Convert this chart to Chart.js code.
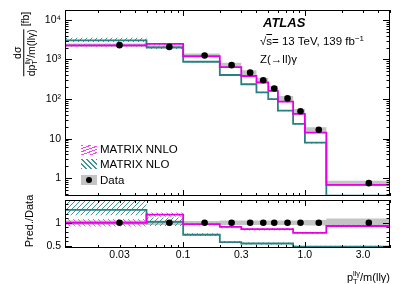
<!doctype html>
<html lang="en">
<head>
<meta charset="utf-8">
<title>Z(ll)gamma pT/m</title>
<script src="https://cdn.jsdelivr.net/npm/chart.js@4.4.0/dist/chart.umd.min.js"></script>
<style>
  body { margin: 0; background: #fff; font-family: "Liberation Sans", Arial, sans-serif; color: #000; }
  #wrap { position: relative; width: 411px; height: 284px; overflow: hidden; }
  canvas { position: absolute; left: 0; }
  .txt { position: absolute; white-space: nowrap; line-height: 1; }
  .ss { display: inline-block; vertical-align: -3px; font-size: 0.68em; line-height: 0.7em; text-align: left; }
  .ss span { display: block; line-height: 7.5px; }
  .frac { display: inline-flex; flex-direction: column; align-items: center; vertical-align: middle; }
  .frac .den { border-top: 1px solid #000; padding-top: 1px; }
  .sym { position: absolute; left: 81px; width: 16px; height: 10px; }
</style>
</head>
<body>
<div id="wrap">
  <canvas id="mainChart" width="411" height="200" style="top:0"></canvas>
  <canvas id="ratioChart" width="411" height="88" style="top:196px"></canvas>

  <div class="txt" style="left:263px; top:15px; font: italic bold 13px 'Liberation Sans', Arial, sans-serif;">ATLAS</div>
  <div class="txt" style="left:260px; top:36px; font-size:11.5px;">√<span style="text-decoration:overline">s</span>= 13 TeV, 139 fb<span style="font-size:8px; position:relative; top:-4px;">−1</span></div>
  <div class="txt" style="left:260px; top:54px; font-size:11.5px;">Z(→ll)γ</div>

  <div class="sym" style="top:145px; background: repeating-linear-gradient(160deg, #ec4cec 0 1px, transparent 1px 3px);"></div>
  <div class="sym" style="top:159px; background: repeating-linear-gradient(45deg, #3c9a9a 0 1px, transparent 1px 3.5px);"></div>
  <div class="sym" style="top:175px; background:#c4c4c4;"><div style="position:absolute; left:5px; top:2px; width:6px; height:6px; border-radius:50%; background:#000;"></div></div>
  <div class="txt" style="left:100px; top:144px; font-size:11.5px;">MATRIX NNLO</div>
  <div class="txt" style="left:100px; top:158.5px; font-size:11.5px;">MATRIX NLO</div>
  <div class="txt" style="left:100px; top:174.5px; font-size:11.5px;">Data</div>

  <div class="txt" style="left:26px; top:44px; font-size:10.5px; transform: translate(-50%,-50%) rotate(-90deg);"><span class="frac"><span>dσ</span><span class="den">dp<span class="ss"><span>llγ</span><span>T</span></span>/m(llγ)</span></span> [fb]</div>
  <div class="txt" style="left:29px; top:221px; font-size:11px; transform: translate(-50%,-50%) rotate(-90deg);">Pred./Data</div>
  <div class="txt" style="right:21px; top:270px; font-size:11px;">p<span class="ss"><span>llγ</span><span>T</span></span>/m(llγ)</div>
</div>

<script>
    // binning in pT(llγ)/m(llγ)
    const binEdges = [0.01, 0.05, 0.1, 0.2, 0.3, 0.4, 0.5, 0.6, 0.8, 1.0, 1.5, 5];
    const dataX = [0.03, 0.077, 0.15, 0.25, 0.355, 0.455, 0.56, 0.72, 0.92, 1.3, 3.35];

    // dσ/d(pT/m) [fb]
    const dataXsec = [2300, 2077, 1259, 720, 465, 299, 185, 104, 49, 16.8, 0.75];
    const nnloXsec = [2278, 2469, 1209, 642, 382, 262, 161, 86, 42, 14.1, 0.68];
    const nloXsec = [3038, 2030, 876, 405, 237, 147, 100, 51, 23.7, 7.9, 0.36];

    // relative uncertainties (bands)
    const dataBoxMain = [0.1, 0.1, 0.12, 0.15, 0.15, 0.15, 0.15, 0.15, 0.15, 0.15, 0.15];
    const dataUnc = [0.05, 0.05, 0.04, 0.05, 0.05, 0.05, 0.05, 0.05, 0.05, 0.06, 0.09];
    const nnloUnc = [0.08, 0.04, 0.03, 0.03, 0.03, 0.03, 0.03, 0.03, 0.03, 0.03, 0.03];
    const nloUncUp = [0.16, 0.09, 0.04, 0.04, 0.04, 0.04, 0.04, 0.04, 0.04, 0.04, 0.04];
    const nloUncDn = [0.09, 0.09, 0.04, 0.04, 0.04, 0.04, 0.04, 0.04, 0.04, 0.04, 0.04];

    // Pred./Data
    const dataRatio = [1, 1, 1, 1, 1, 1, 1, 1, 1, 1, 1];
    const nnloRatio = [1.0, 1.175, 0.97, 0.91, 0.86, 0.86, 0.86, 0.86, 0.78, 0.78, 0.93];
    const nloRatio = [1.28, 1.02, 0.74, 0.58, 0.55, 0.55, 0.55, 0.55, 0.48, 0.48, 0.48];

    // axes
    const xTicks = [0.03, 0.1, 0.3, 1, 3];
    const xLabels = ['0.03', '0.1', '0.3', '1.0', '3.0'];
    const mainYTicks = [1, 10, 100, 1000, 10000];
    const mainYLabels = ['1', '10', '10²', '10³', '10⁴'];
    const ratioYTicks = [0.5, 1];
    const ratioYLabels = ['0.5', '1'];

    const magenta = '#e600e6';
    const magentaHatch = '#ee55ee';
    const teal = '#2a8080';
    const tealHatch = '#3c9a9a';
    const grey = '#c4c4c4';
    const font = { family: "'Liberation Sans', Arial, sans-serif", size: 10.5 };

    let hist = (vals) => binEdges.map((e, i) => ({ x: e, y: vals[Math.min(i, vals.length - 1)] }));
    let scaled = (vals, unc, sign) => vals.map((v, i) => v * (1 + sign * unc[i]));

    let hatch = (color, up) => {
        const c = document.createElement('canvas');
        c.width = c.height = 5;
        const g = c.getContext('2d');
        g.strokeStyle = color;
        g.lineWidth = 1;
        g.beginPath();
        if (up) {
            g.moveTo(0, 5); g.lineTo(5, 0);
            g.moveTo(-1, 1); g.lineTo(1, -1);
            g.moveTo(4, 6); g.lineTo(6, 4);
        } else {
            g.moveTo(0, 0); g.lineTo(5, 5);
            g.moveTo(4, -1); g.lineTo(6, 1);
            g.moveTo(-1, 4); g.lineTo(1, 6);
        }
        g.stroke();
        return g.createPattern(c, 'repeat');
    };

    let logTicks = (lo, hi, major, minor) => {
        const out = [];
        for (let k = Math.floor(Math.log10(lo)); k <= Math.ceil(Math.log10(hi)); k++) {
            for (let m = 1; m < 10; m++) {
                const v = m * Math.pow(10, k);
                if (v >= lo && v <= hi) out.push([v, m === 1 ? major : minor]);
            }
        }
        return out;
    };

    // frame with inward ROOT-style ticks
    const frameTicks = {
        id: 'frameTicks',
        afterDraw(chart, args, opts) {
            const { ctx, chartArea: a, scales: { x, y } } = chart;
            ctx.save();
            ctx.strokeStyle = '#000';
            ctx.lineWidth = 1;
            ctx.beginPath();
            opts.xTicks.forEach(([v, len]) => {
                const px = Math.round(x.getPixelForValue(v)) + 0.5;
                ctx.moveTo(px, a.bottom); ctx.lineTo(px, a.bottom - len);
                ctx.moveTo(px, a.top); ctx.lineTo(px, a.top + len);
            });
            opts.yTicks.forEach(([v, len]) => {
                const py = Math.round(y.getPixelForValue(v)) + 0.5;
                ctx.moveTo(a.left, py); ctx.lineTo(a.left + len, py);
                ctx.moveTo(a.right, py); ctx.lineTo(a.right - len, py);
            });
            ctx.stroke();
            ctx.strokeRect(a.left + 0.5, a.top + 0.5, a.width - 1, a.height - 1);
            ctx.restore();
        }
    };

    const xMin = 0.0107, xMax = 5;

    let lineDs = (pts, color) => ({ data: pts, stepped: true, borderColor: color, borderWidth: 1.8, pointRadius: 0, fill: false });
    let bandDs = (pts, bg) => ({ data: pts, stepped: true, borderWidth: 0, pointRadius: 0, fill: '+1', backgroundColor: bg });
    let edgeDs = (pts) => ({ data: pts, stepped: true, borderWidth: 0, pointRadius: 0, fill: false });
    let pointDs = (pts) => ({ data: pts, showLine: false, pointRadius: 3.3, pointBackgroundColor: '#000', pointBorderWidth: 0 });

    let yAxis = (type, min, max, ticks, labels) => ({
        type: type, min: min, max: max,
        grid: { display: false, drawTicks: false }, border: { display: false },
        afterBuildTicks: (s) => { s.ticks = ticks.map(v => ({ value: v })); },
        ticks: { font: font, color: '#000', padding: 4, callback: (v) => labels[ticks.indexOf(v)] },
        afterFit: (s) => { s.width = 65; s.paddingTop = 0; s.paddingBottom = 0; }
    });

    new Chart(document.getElementById('mainChart'), {
        type: 'line',
        data: {
            datasets: [
                pointDs(dataX.map((x, i) => ({ x: x, y: dataXsec[i] }))),
                lineDs(hist(nnloXsec), magenta),
                lineDs(hist(nloXsec), teal),
                bandDs(hist(scaled(nnloXsec, nnloUnc, 1)), hatch(magentaHatch, false)),
                edgeDs(hist(scaled(nnloXsec, nnloUnc, -1))),
                bandDs(hist(scaled(nloXsec, nloUncUp, 1)), hatch(tealHatch, true)),
                edgeDs(hist(scaled(nloXsec, nloUncDn, -1))),
                bandDs(hist(scaled(dataXsec, dataBoxMain, 1)), grey),
                edgeDs(hist(scaled(dataXsec, dataBoxMain, -1)))
            ]
        },
        options: {
            responsive: false, animation: false, events: [], devicePixelRatio: 1,
            layout: { padding: { left: 0, right: 21, top: 10, bottom: 2 } },
            scales: {
                x: { type: 'logarithmic', min: xMin, max: xMax, display: false },
                y: yAxis('logarithmic', 0.355, 17800, mainYTicks, mainYLabels)
            },
            plugins: {
                legend: { display: false }, tooltip: { enabled: false },
                frameTicks: {
                    xTicks: logTicks(xMin, xMax, 6, 3),
                    yTicks: logTicks(0.355, 17800, 7, 3.5)
                }
            }
        },
        plugins: [frameTicks]
    });

    let ratioYMinor = [];
    for (let v = 5; v <= 14; v++) ratioYMinor.push([v / 10, (v === 5 || v === 10) ? 7 : 3.5]);

    new Chart(document.getElementById('ratioChart'), {
        type: 'line',
        data: {
            datasets: [
                pointDs(dataX.map((x, i) => ({ x: x, y: dataRatio[i] }))),
                lineDs(hist(nnloRatio), magenta),
                lineDs(hist(nloRatio), teal),
                bandDs(hist(scaled(nnloRatio, nnloUnc, 1)), hatch(magentaHatch, false)),
                edgeDs(hist(scaled(nnloRatio, nnloUnc, -1))),
                bandDs(hist(scaled(nloRatio, nloUncUp, 1)), hatch(tealHatch, true)),
                edgeDs(hist(scaled(nloRatio, nloUncDn, -1))),
                bandDs(hist(scaled(dataRatio, dataUnc, 1)), grey),
                edgeDs(hist(scaled(dataRatio, dataUnc, -1)))
            ]
        },
        options: {
            responsive: false, animation: false, events: [], devicePixelRatio: 1,
            layout: { padding: { left: 0, right: 21, top: 2, bottom: 0 } },
            scales: {
                x: {
                    type: 'logarithmic', min: xMin, max: xMax,
                    grid: { display: false, drawTicks: false }, border: { display: false },
                    afterBuildTicks: (s) => { s.ticks = xTicks.map(v => ({ value: v })); },
                    ticks: { font: font, color: '#000', padding: 1, maxRotation: 0, autoSkip: false,
                        callback: (v) => xLabels[xTicks.indexOf(v)] },
                    afterFit: (s) => { s.height = 36; s.paddingLeft = 0; s.paddingRight = 0; }
                },
                y: yAxis('linear', 0.452, 1.494, ratioYTicks, ratioYLabels)
            },
            plugins: {
                legend: { display: false }, tooltip: { enabled: false },
                frameTicks: {
                    xTicks: logTicks(xMin, xMax, 6, 3),
                    yTicks: ratioYMinor
                }
            }
        },
        plugins: [frameTicks]
    });
</script>
</body>
</html>
